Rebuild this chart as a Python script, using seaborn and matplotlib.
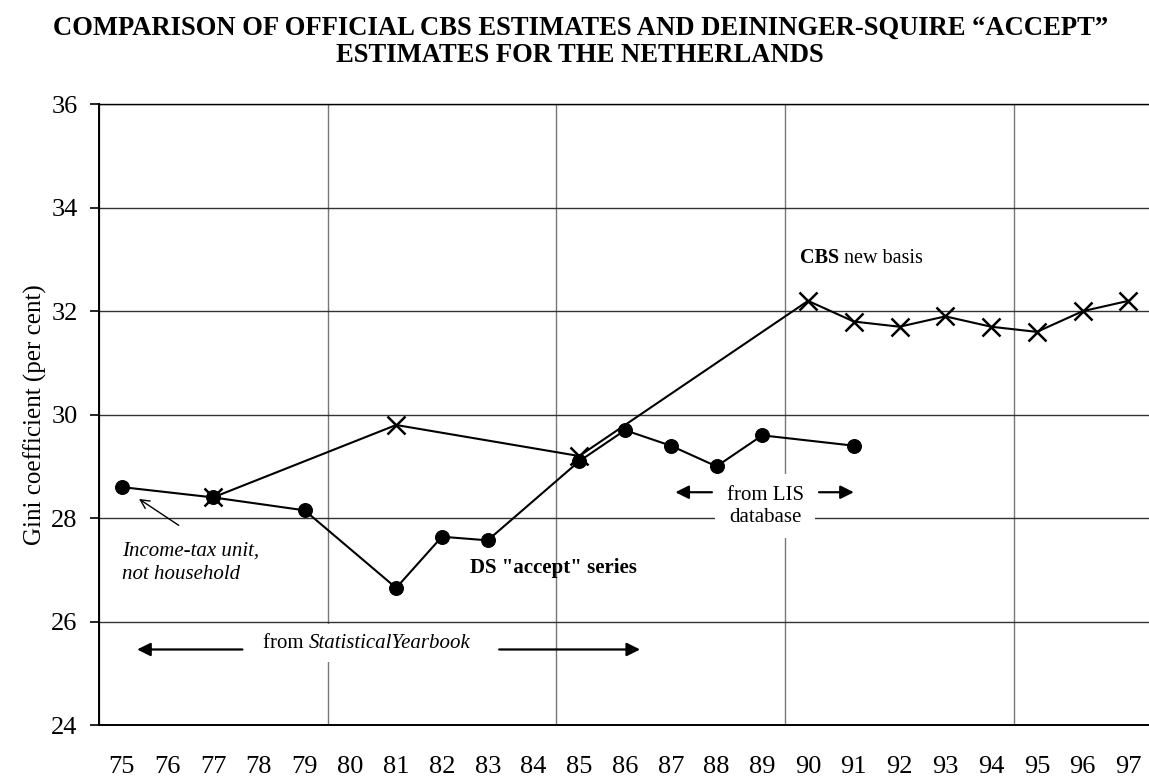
import numpy as np
import pandas as pd
import matplotlib
matplotlib.use("Agg")
import matplotlib.pyplot as plt
import seaborn as sns
from matplotlib.ticker import FixedLocator

# ---------------- data ----------------
years = list(range(75, 98))
year_labels = [str(y) for y in years]

ds_years = [75, 77, 79, 81, 82, 83, 85, 86, 87, 88, 89, 91]
ds_gini = [28.6, 28.4, 28.15, 26.65, 27.64, 27.57, 29.1, 29.7, 29.4, 29.0, 29.6, 29.4]

cbs_years = [77, 81, 85, 90, 91, 92, 93, 94, 95, 96, 97]
cbs_gini = [28.4, 29.8, 29.2, 32.2, 31.8, 31.7, 31.9, 31.7, 31.6, 32.0, 32.2]

y_ticks = [24, 26, 28, 30, 32, 34, 36]
five_year_lines = [74.5, 79.5, 84.5, 89.5, 94.5]

title_lines = ["COMPARISON OF OFFICIAL CBS ESTIMATES AND DEININGER-SQUIRE \u201cACCEPT\u201d",
               "ESTIMATES FOR THE NETHERLANDS"]
y_label = "Gini coefficient (per cent)"

# ---------------- style ----------------
sns.set_theme(style="white")
plt.rcParams['font.family'] = ['Liberation Serif', 'DejaVu Serif']

fig = plt.figure(figsize=(11.49, 7.77), dpi=100)
W, H = 1149, 777
ax_left, ax_right = 98.7 / W, 1.0
ax_top, ax_bottom = 1 - 104.3 / H, 1 - 725 / H
ax = fig.add_axes([ax_left, ax_bottom, ax_right - ax_left, ax_top - ax_bottom])
ax.set_facecolor("white")

ds_df = pd.DataFrame({"year": ds_years, "gini": ds_gini})
cbs_df = pd.DataFrame({"year": cbs_years, "gini": cbs_gini})

sns.lineplot(data=cbs_df, x="year", y="gini", ax=ax, color="black", lw=1.5,
             marker="x", markersize=12.5, markeredgewidth=1.8, markeredgecolor="black",
             zorder=5, estimator=None, sort=False)
sns.lineplot(data=ds_df, x="year", y="gini", ax=ax, color="black", lw=1.5,
             marker="o", markersize=10, markeredgecolor="black", markerfacecolor="black",
             zorder=6, estimator=None, sort=False)

ax.set_xlim(74.5, 97.45)
ax.set_ylim(24, 36)
ax.set_xlabel("")
ax.set_ylabel(y_label, fontsize=18, color="black")
ax.yaxis.set_label_coords((47 - 98.7) / (W - 98.7), 0.5)

ax.set_xticks(years)
ax.set_xticklabels(year_labels, fontsize=19, color="black")
ax.xaxis.set_minor_locator(FixedLocator(five_year_lines))
ax.tick_params(axis="x", which="major", length=0, pad=22)
ax.tick_params(axis="x", which="minor", length=5.8, width=1.0, color="#555555", direction="out")
ax.set_yticks(y_ticks)
ax.set_yticklabels([str(v) for v in y_ticks], fontsize=19, color="black")
ax.tick_params(axis="y", which="major", length=6.5, width=1.2, color="black",
               direction="out", pad=8.6, left=True)

ax.set_axisbelow(True)
ax.grid(False)
ax.grid(which="major", axis="y", color="#333333", lw=1.0, zorder=0)
ax.grid(which="minor", axis="x", color="#777777", lw=1.0, zorder=0)

ax.spines["right"].set_visible(False)
ax.spines["top"].set_visible(True)
ax.spines["top"].set_color("black")
ax.spines["top"].set_linewidth(1.0)
ax.spines["left"].set_color("black")
ax.spines["left"].set_linewidth(1.4)
ax.spines["bottom"].set_color("black")
ax.spines["bottom"].set_linewidth(1.4)

# ---------------- title ----------------
fig.text(0.505, 1 - 28 / H, title_lines[0], ha="center", va="center",
         fontsize=19.2, fontweight="bold", color="black")
fig.text(0.505, 1 - 56 / H, title_lines[1], ha="center", va="center",
         fontsize=19.2, fontweight="bold", color="black")

# ---------------- annotations ----------------
# CBS new basis
t_cbs = ax.text(89.83, 32.84, "CBS", fontsize=14.5, fontweight="bold",
                ha="left", va="bottom", color="black", zorder=7)
ax.annotate(" new basis", xy=(1, 0), xycoords=t_cbs, ha="left", va="bottom",
            fontsize=14.5, color="black", zorder=7)

# DS "accept" series
ax.text(82.61, 27.03, "DS \"accept\" series", fontsize=15, fontweight="bold",
        ha="left", va="center", color="black", zorder=7)

# Income-tax unit note
ax.text(75.02, 27.14, "Income-tax unit,\nnot household", fontsize=15, style="italic",
        ha="left", va="center", color="black", linespacing=1.3, zorder=7)
ax.annotate("", xy=(75.33, 28.40), xytext=(76.30, 27.83),
            arrowprops=dict(arrowstyle="->", color="black", lw=1.0, mutation_scale=16),
            zorder=7)

# from Statistical Yearbook
t_from = ax.text(78.10, 25.58, "from ", fontsize=15, ha="left", va="center",
                 color="black", zorder=5)
ax.annotate("StatisticalYearbook", xy=(1, 0.5), xycoords=t_from, ha="left", va="center",
            fontsize=15, style="italic", color="black", zorder=4,
            bbox=dict(boxstyle="square,pad=0.45", fc="white", ec="none"))
arrow_full = dict(arrowstyle="-|>", color="black", lw=1.6, mutation_scale=20,
                  shrinkA=0, shrinkB=0)
ax.annotate("", xy=(75.34, 25.46), xytext=(77.64, 25.46), arrowprops=arrow_full, zorder=7)
ax.annotate("", xy=(86.33, 25.46), xytext=(83.25, 25.46), arrowprops=arrow_full, zorder=7)

# from LIS database
ax.text(89.06, 28.23, "from LIS\ndatabase", fontsize=15, ha="center", va="center",
        color="black", linespacing=1.2, zorder=4,
        bbox=dict(boxstyle="square,pad=0.55", fc="white", ec="none"))
ax.annotate("", xy=(87.10, 28.50), xytext=(87.90, 28.50), arrowprops=arrow_full, zorder=7)
ax.annotate("", xy=(91.00, 28.50), xytext=(90.24, 28.50), arrowprops=arrow_full, zorder=7)

fig.savefig("out.png", dpi=100, facecolor="white")
